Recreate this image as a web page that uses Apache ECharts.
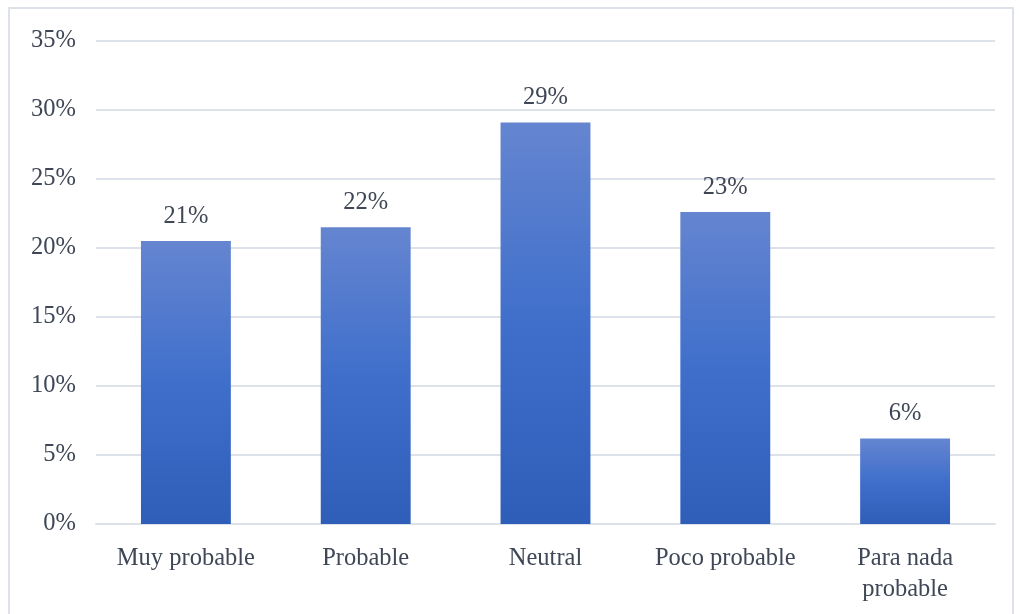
<!DOCTYPE html>
<html>
<head>
<meta charset="utf-8">
<script src="https://cdn.jsdelivr.net/npm/echarts@6/dist/echarts.min.js"></script>
<style>
  html, body { margin: 0; padding: 0; background: #fff; }
  #frame { position: absolute; left: 8px; top: 7px; width: 1006px; height: 620px; border: 2px solid #dde2ea; box-sizing: border-box; }
  #chart { position: absolute; left: 0; top: 0; width: 1019px; height: 614px; }
</style>
</head>
<body>
<div id="frame"></div>
<div id="chart"></div>
<script>
  // categorías y valores (%)
  const categories = ['Muy probable', 'Probable', 'Neutral', 'Poco probable', 'Para nada\nprobable']
  const values = [20.5, 21.5, 29.1, 22.6, 6.2]
  const valueLabels = ['21%', '22%', '29%', '23%', '6%']

  const myChart = echarts.init(document.getElementById('chart'))
  const textColor = '#3f4756'
  const font = '"Liberation Serif", "Times New Roman", serif'

  const option = {
    animation: false,
    grid: {
      left: 96,
      right: 24,
      top: 41,
      bottom: 90
    },
    xAxis: {
      type: 'category',
      data: categories,
      axisLine: { show: true, lineStyle: { color: '#dde2ea', width: 2 } },
      axisTick: { show: false },
      axisLabel: {
        interval: 0,
        hideOverlap: false,
        color: textColor,
        fontFamily: font,
        fontSize: 24.5,
        lineHeight: 31,
        margin: 19
      }
    },
    yAxis: {
      type: 'value',
      min: 0,
      max: 35,
      interval: 5,
      axisLine: { show: false },
      axisTick: { show: false },
      splitLine: { lineStyle: { color: '#dde2ea', width: 2 } },
      axisLabel: {
        color: textColor,
        fontFamily: font,
        fontSize: 24.5,
        margin: 20,
        formatter: '{value}%'
      }
    },
    series: [{
      type: 'bar',
      data: values,
      barWidth: '50%',
      itemStyle: {
        color: new echarts.graphic.LinearGradient(0, 0, 0, 1, [
          { offset: 0, color: '#6585d0' },
          { offset: 0.5, color: '#3f6fcb' },
          { offset: 1, color: '#2f5eb9' }
        ])
      },
      label: {
        show: true,
        position: 'top',
        distance: 12,
        color: textColor,
        fontFamily: font,
        fontSize: 24.5,
        formatter: (p) => valueLabels[p.dataIndex]
      }
    }]
  }
  myChart.setOption(option)
</script>
</body>
</html>
